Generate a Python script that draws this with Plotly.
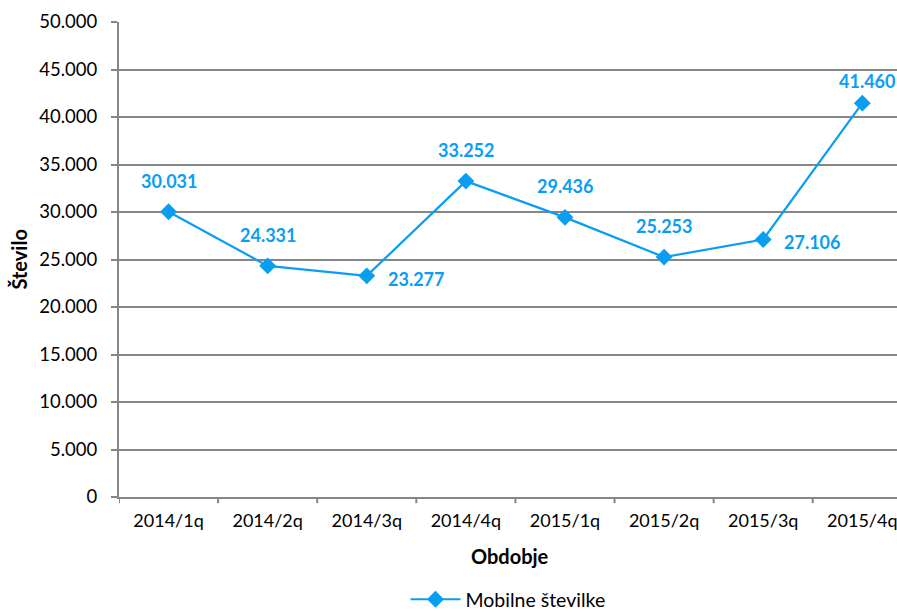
import plotly.graph_objects as go

categories = ["2014/1q", "2014/2q", "2014/3q", "2014/4q", "2015/1q", "2015/2q", "2015/3q", "2015/4q"]
values = [30031, 24331, 23277, 33252, 29436, 25253, 27106, 41460]
label_side = ["above", "above", "right", "above", "above", "above", "right", "above"]
series_name = "Mobilne številke"
y_ticks = [0, 5000, 10000, 15000, 20000, 25000, 30000, 35000, 40000, 45000, 50000]

COLOR = "#0A9EF2"
GRID = "#868686"
FONT = "Lato, 'Open Sans', sans-serif"

def fmt(v):
    return f"{v:,}".replace(",", ".")

fig = go.Figure()
fig.add_trace(go.Scatter(
    x=list(range(len(categories))), y=values, mode="lines+markers",
    name=series_name,
    line=dict(color=COLOR, width=2.2),
    marker=dict(symbol="diamond", size=13, color=COLOR),
    cliponaxis=False,
))

for i, (v, side) in enumerate(zip(values, label_side)):
    if side == "above":
        xs, ys = (0, 31)
        if i == len(values) - 1:
            xs, ys = (5, 22)
    else:
        xs, ys = (49, -3)
    fig.add_annotation(x=i, y=v, text=fmt(v), showarrow=False,
                       xshift=xs, yshift=ys,
                       font=dict(family=FONT, size=18, color=COLOR, weight="bold"))

fig.update_layout(
    width=897, height=612,
    margin=dict(l=119, r=0, t=22, b=115, autoexpand=False),
    paper_bgcolor="white", plot_bgcolor="white",
    font=dict(family=FONT, size=18.5, color="black"),
    separators=",.",
    showlegend=True,
    legend=dict(orientation="h", x=0.50, xanchor="center", y=-0.216, yanchor="middle",
                font=dict(family=FONT, size=19.5, color="black"), itemwidth=50),
)
fig.update_xaxes(
    range=[-0.5, 7.35],
    tickmode="array", tickvals=list(range(len(categories))), ticktext=categories,
    showgrid=False, zeroline=False,
    showline=True, linecolor=GRID, linewidth=2,
    ticks="", tickfont=dict(size=18), ticklabelstandoff=6,
    ticklabeloverflow="allow",
)
for b in [i + 0.5 for i in range(-1, len(categories))]:
    fig.add_shape(type="line", xref="x", yref="paper", x0=b, x1=b, y0=0, y1=-0.013,
                  line=dict(color=GRID, width=2))

fig.update_yaxes(
    range=[0, 50000], tickvals=y_ticks, tickformat=",d",
    showgrid=True, gridcolor=GRID, gridwidth=2,
    zeroline=False, showline=True, linecolor=GRID, linewidth=2,
    ticks="outside", ticklen=6, tickcolor=GRID, tickwidth=2,
    tickfont=dict(size=18.5), ticklabelstandoff=10,
)

fig.add_annotation(text="Obdobje", xref="paper", yref="paper", x=0.503, y=-0.124,
                   showarrow=False, yanchor="middle",
                   font=dict(family=FONT, size=20, color="black", weight="bold"))
fig.add_annotation(text="Število", xref="paper", yref="paper", x=-0.1298, y=0.5,
                   textangle=-90, showarrow=False, xanchor="center",
                   font=dict(family=FONT, size=20, color="black", weight="bold"))

fig.write_html("out.html", config={"displayModeBar": False},
               post_script="document.body.style.margin='0';document.body.style.overflow='hidden';")
